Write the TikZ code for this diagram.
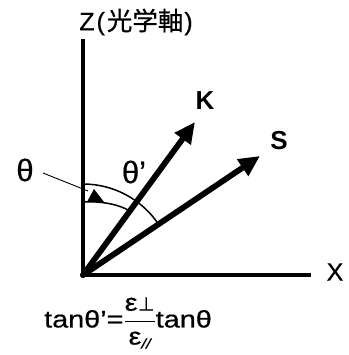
\documentclass[tikz,border=0pt]{standalone}
\usepackage{fontspec}
\setmainfont{Liberation Sans}
\newfontfamily\lab[FakeBold=0.6]{Liberation Sans}
\newfontfamily\labw[FakeBold=0.6,FakeStretch=1.2]{Liberation Sans}
\newfontfamily\cjk[FakeBold=0.6]{Noto Sans CJK JP}
\newfontfamily\dvsn[FakeBold=0.6]{DejaVu Sans}
\usetikzlibrary{arrows.meta}
\begin{document}
\begin{tikzpicture}[x=1pt,y=-1pt,
  axis/.style={line width=3.3pt},
  vec/.style={line width=5.8pt,line cap=round,-{Triangle[length=21pt,width=19pt]}},
  arcline/.style={line width=1.5pt},
  leader/.style={line width=0.9pt},
  lbl/.style={inner sep=0pt,font=\lab\fontsize{#1}{#1}\selectfont},
  blbl/.style={inner sep=0pt,font=\bfseries\fontsize{#1}{#1}\selectfont}]
\useasboundingbox (0,0) rectangle (348,355);
\coordinate (O) at (83,275);
\coordinate (Ztop) at (83,39);
\coordinate (Xend) at (311,275);
\coordinate (Ktip) at (195,122);
\coordinate (Stip) at (260,156);
\draw[axis,line join=miter] (Ztop) -- (O) -- (Xend);
\draw[vec] (O) -- (Ktip);
\draw[vec] (O) -- (Stip);
\draw[arcline] (83,184) arc[start angle=-90, end angle=-34, radius=91];
\draw[arcline] (83,202) .. controls (100,201) and (120,204) .. (131,212);
\coordinate (L1) at (43,173);
\coordinate (L2) at (88,191);
\draw[leader] (L1) -- (L2);
\fill (94,189) -- (104,202) -- (87,202) -- cycle;
\node[lbl=25] (zl) at (136,22) {Z\kern2pt(\kern2pt{\cjk\fontsize{25.5}{25.5}\selectfont 光学軸}\kern1pt)};
\node[lbl=25] (xl) at (335,272) {X};
\node[blbl=26] (kl) at (205,101) {K};
\node[blbl=26] (sl) at (279,141) {S};
\node[lbl=31] (th) at (25,170) {θ};
\node[lbl=31] (thp) at (134,172) {θ’};
\node[lbl=24,font=\labw\fontsize{24}{24}\selectfont] (formula) at (128,323)
  {tanθ’=$\displaystyle\frac{\hbox{ε\kern0.5pt{\dvsn\fontsize{19}{19}\selectfont ⊥}}}{\hbox{ε\raisebox{-4pt}{\fontsize{14}{14}\selectfont\itshape //}}}$tanθ};
\end{tikzpicture}
\end{document}
